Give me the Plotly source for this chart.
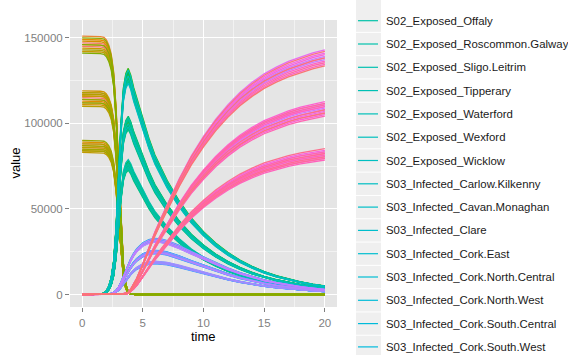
import math
import plotly.graph_objects as go

# ---------------- data ----------------
TIME = [0, 0.5, 1, 1.5, 1.8, 2.0, 2.2, 2.4, 2.6, 2.8, 3.0, 3.2, 3.4, 3.6, 3.8, 4.0,
        4.25, 4.5, 5.0, 5.5, 6.0, 6.5, 7, 8, 9, 10, 11, 12, 13, 14, 15, 16, 17, 18, 19, 20]

# fraction of each region's population in each compartment
S01_SUSCEPTIBLE = [1, 1, 1, .998, .995, .985, .965, .93, .86, .72, .50, .28, .12, .04, .01, .002,
                   0, 0, 0, 0, 0, 0, 0, 0, 0, 0, 0, 0, 0, 0, 0, 0, 0, 0, 0, 0]
S02_EXPOSED = [0, 0, 0, .002, .005, .014, .033, .066, .131, .262, .467, .664, .80, .855, .875, .85,
               .80, .76, .68, .605, .54, .489, .442, .362, .296, .243, .199, .163, .133, .109,
               .089, .073, .06, .049, .04, .033]
S03_INFECTED = [0, 0, 0, 0, 0, .001, .002, .004, .008, .016, .029, .048, .071, .095, .118, .138,
                .16, .177, .2, .212, .217, .215, .209, .19, .167, .145, .123, .103, .085, .07,
                .057, .047, .038, .031, .025, .02]
S04_RECOVERED = [0, 0, 0, 0, 0, 0, 0, 0, 0, 0, .001, .002, .003, .005, .008, .02,
                 .04, .063, .12, .183, .243, .296, .349, .448, .537, .612, .678, .734, .782, .821,
                 .854, .88, .902, .92, .935, .947]

REGIONS = ["Carlow.Kilkenny", "Cavan.Monaghan", "Clare", "Cork.East", "Cork.North.Central",
           "Cork.North.West", "Cork.South.Central", "Cork.South.West", "Donegal",
           "Dublin.Bay.North", "Dublin.Bay.South", "Dublin.Central", "Dublin.Fingal",
           "Dublin.Mid.West", "Dublin.North.West", "Dublin.Rathdown", "Dublin.South.Central",
           "Dublin.South.West", "Dublin.West", "Dun.Laoghaire", "Galway.East", "Galway.West",
           "Kerry", "Kildare.North", "Kildare.South", "Laois", "Limerick.City",
           "Limerick.County", "Longford.Westmeath", "Louth", "Mayo", "Meath.East",
           "Meath.West", "Offaly", "Roscommon.Galway", "Sligo.Leitrim", "Tipperary",
           "Waterford", "Wexford", "Wicklow"]
POPULATION = [145000, 147000, 115000, 114000, 117000, 88000, 118000, 86000, 151000,
              146000, 112000, 84000, 149000, 113000, 89000, 85000, 116000,
              148000, 111000, 119000, 87000, 144000,
              142000, 116000, 83000, 86000, 110000,
              88000, 117000, 143000, 118000, 84000,
              87000, 85000, 90000, 114000, 150000,
              112000, 146000, 141000]

COMPARTMENTS = [("S01_Susceptible", S01_SUSCEPTIBLE), ("S02_Exposed", S02_EXPOSED),
                ("S03_Infected", S03_INFECTED), ("S04_Recovered", S04_RECOVERED)]

LEGEND_SHOWN = (["S02_Exposed_" + r for r in ["Offaly", "Roscommon.Galway", "Sligo.Leitrim",
                                              "Tipperary", "Waterford", "Wexford", "Wicklow"]] +
                ["S03_Infected_" + r for r in ["Carlow.Kilkenny", "Cavan.Monaghan", "Clare",
                                               "Cork.East", "Cork.North.Central",
                                               "Cork.North.West", "Cork.South.Central",
                                               "Cork.South.West"]])


# ---------------- ggplot-like hue palette ----------------
def hcl(h, c=100.0, l=65.0):
    hr = math.radians(h)
    u, v = c * math.cos(hr), c * math.sin(hr)
    Y = ((l + 16) / 116) ** 3
    un, vn = 0.1978398, 0.4683363
    up = u / (13 * l) + un
    vp = v / (13 * l) + vn
    X = Y * 9 * up / (4 * vp)
    Z = Y * (12 - 3 * up - 20 * vp) / (4 * vp)
    r = 3.2404542 * X - 1.5371385 * Y - 0.4985314 * Z
    g = -0.9692660 * X + 1.8760108 * Y + 0.0415560 * Z
    b = 0.0556434 * X - 0.2040259 * Y + 1.0572252 * Z

    def gam(x):
        x = 12.92 * x if x <= 0.0031308 else 1.055 * x ** (1 / 2.4) - 0.055
        return int(round(min(max(x, 0), 1) * 255))
    return "#%02X%02X%02X" % (gam(r), gam(g), gam(b))


names = [f"{cp}_{rg}" for cp, _ in COMPARTMENTS for rg in REGIONS]
n = len(names)
colors = {nm: hcl(15 + 360 * i / n) for i, nm in enumerate(names)}

fig = go.Figure()
for cp, frac in COMPARTMENTS:
    for rg, pop in zip(REGIONS, POPULATION):
        nm = f"{cp}_{rg}"
        fig.add_trace(go.Scatter(
            x=TIME, y=[pop * f for f in frac], mode="lines", name=nm,
            line=dict(color=colors[nm], width=1.3), showlegend=False,
            hoverinfo="name"))

# ---------------- layout (pixel geometry) ----------------
W, H = 568, 355
L, T, PR, PB = 70, 20, 337, 307
pw, ph = PR - L, PB - T


def px(xp):
    return (xp - L) / pw


def py(yp):
    return 1 - (yp - T) / ph


FONT = "Liberation Sans, Arial, sans-serif"
shapes, annots = [], []

# legend drawn manually (the original legend is cut by the image border)
shapes.append(dict(type="rect", xref="paper", yref="paper", x0=px(356), x1=px(381),
                   y0=py(0), y1=py(H), fillcolor="#EFEFEF", line=dict(width=0), layer="above"))
y0, step = 20.7, 23.3
for k, nm in enumerate(LEGEND_SHOWN):
    yc = y0 + step * k
    shapes.append(dict(type="line", xref="paper", yref="paper", x0=px(356), x1=px(381),
                       y0=py(yc + step / 2), y1=py(yc + step / 2),
                       line=dict(color="white", width=1)))
    shapes.append(dict(type="line", xref="paper", yref="paper", x0=px(358), x1=px(378),
                       y0=py(yc), y1=py(yc), line=dict(color=colors[nm], width=1.2)))
    annots.append(dict(text=nm, xref="paper", yref="paper", x=px(384), y=py(yc),
                       xanchor="left", yanchor="middle", showarrow=False,
                       font=dict(family=FONT, size=11.4, color="#1A1A1A")))

annots.append(dict(text="time", xref="paper", yref="paper", x=px((L + PR) / 2), y=py(336),
                   xanchor="center", yanchor="middle", showarrow=False,
                   font=dict(family=FONT, size=13, color="black")))
annots.append(dict(text="value", xref="paper", yref="paper", x=px(15), y=py((T + PB) / 2),
                   xanchor="center", yanchor="middle", showarrow=False, textangle=-90,
                   font=dict(family=FONT, size=13, color="black")))

fig.update_layout(
    width=W, height=H, margin=dict(l=L, r=W - PR, t=T, b=H - PB, pad=0),
    paper_bgcolor="white", plot_bgcolor="#E5E5E5",
    shapes=shapes, annotations=annots, showlegend=False,
    font=dict(family=FONT),
    xaxis=dict(range=[-1, 21], tickmode="array", tickvals=[0, 5, 10, 15, 20],
               showgrid=True, gridcolor="white", gridwidth=1, zeroline=False,
               ticks="outside", ticklen=4, tickcolor="#7F7F7F", tickwidth=1,
               ticklabelstandoff=1,
               tickfont=dict(family=FONT, size=11.5, color="#7F7F7F"),
               minor=dict(tickvals=[2.5, 7.5, 12.5, 17.5], showgrid=True,
                          gridcolor="#F2F2F2", gridwidth=0.6, ticks=""),
               showline=False, fixedrange=True),
    yaxis=dict(range=[-7300, 160400], tickmode="array",
               tickvals=[0, 50000, 100000, 150000],
               ticktext=["0", "50000", "100000", "150000"],
               showgrid=True, gridcolor="white", gridwidth=1, zeroline=False,
               ticks="outside", ticklen=4, tickcolor="#7F7F7F", tickwidth=1,
               tickfont=dict(family=FONT, size=11.5, color="#7F7F7F"),
               minor=dict(tickvals=[25000, 75000, 125000], showgrid=True,
                          gridcolor="#F2F2F2", gridwidth=0.6, ticks=""),
               showline=False, fixedrange=True),
)

fig.write_html("out.html")
